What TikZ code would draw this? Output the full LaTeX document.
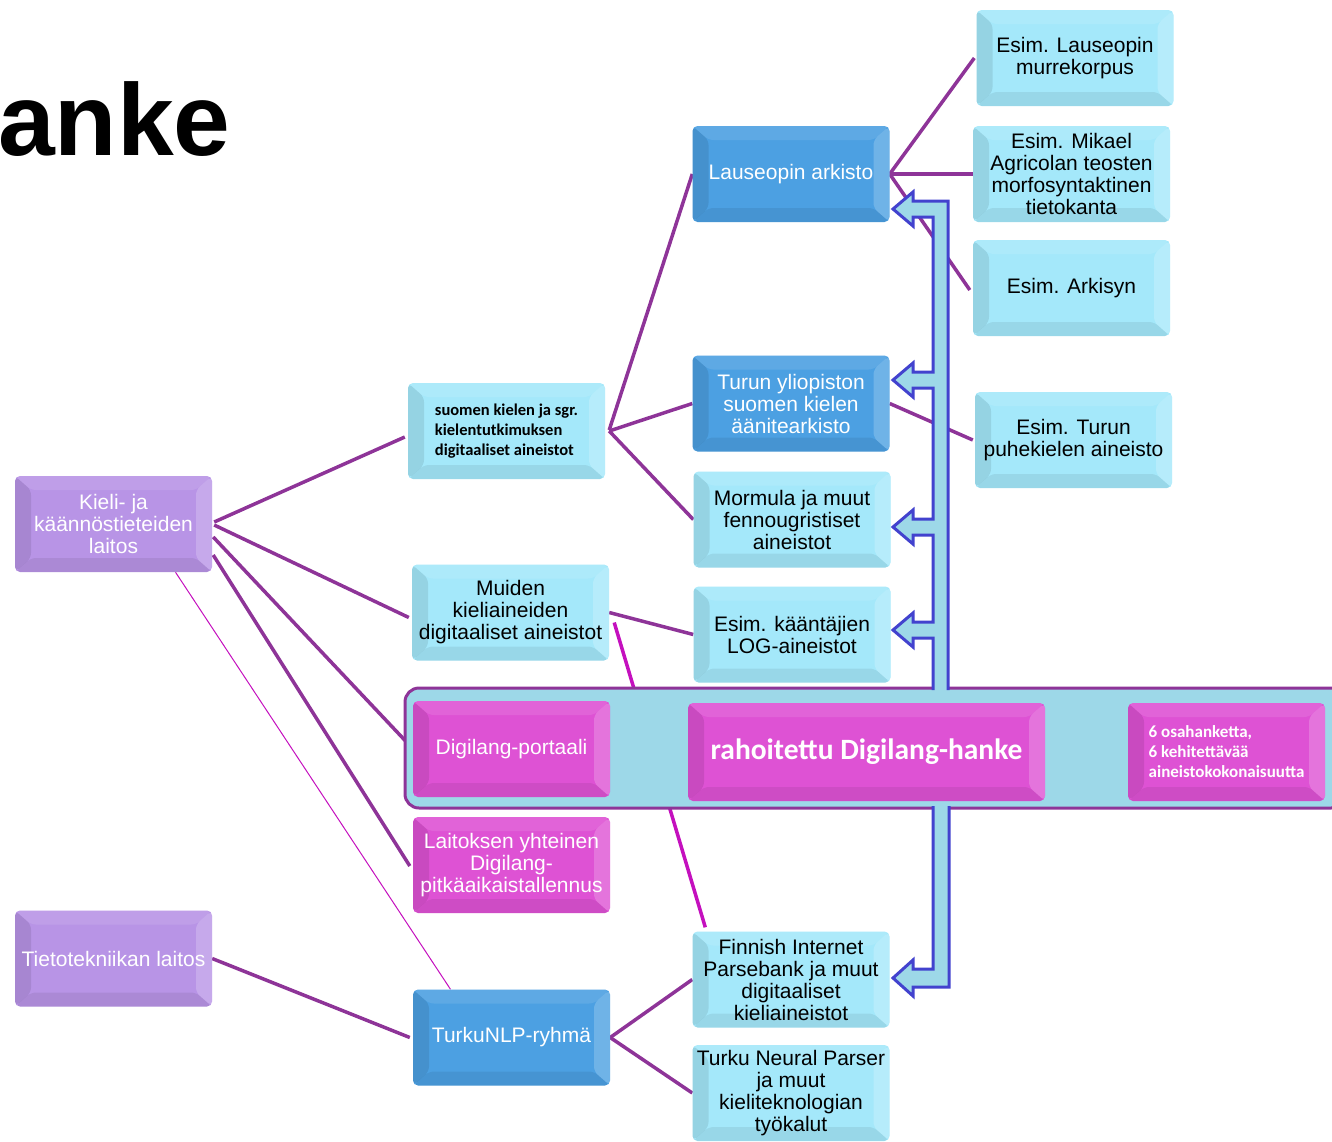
\documentclass[tikz,border=0pt]{standalone}
\usepackage{fontspec}
\setmainfont{Liberation Sans}
\newfontfamily\calib{Carlito}
\usetikzlibrary{calc}
\pgfdeclarelayer{bg}\pgfdeclarelayer{mid}
\pgfsetlayers{bg,mid,main}
\definecolor{cyanbox}{RGB}{164,232,250}
\definecolor{bluebox}{RGB}{76,160,226}
\definecolor{purplebox}{RGB}{184,148,230}
\definecolor{magbox}{RGB}{222,82,212}
\definecolor{bandfill}{RGB}{157,216,232}
\definecolor{linec}{RGB}{142,52,152}
\definecolor{magline}{RGB}{196,16,190}
\definecolor{arrowc}{RGB}{66,66,206}
\tikzset{
  bevel/.style={path picture={
    \fill[black,opacity=.09] (path picture bounding box.north west) -- (path picture bounding box.south west)
      -- ($(path picture bounding box.south west)+(16,-14)$) -- ($(path picture bounding box.north west)+(16,14)$) -- cycle;
    \fill[black,opacity=.07] (path picture bounding box.south west) -- (path picture bounding box.south east)
      -- ($(path picture bounding box.south east)+(-16,-14)$) -- ($(path picture bounding box.south west)+(16,-14)$) -- cycle;
    \fill[white,opacity=.20] (path picture bounding box.north east) -- (path picture bounding box.south east)
      -- ($(path picture bounding box.south east)+(-16,-14)$) -- ($(path picture bounding box.north east)+(-16,14)$) -- cycle;
    \fill[white,opacity=.10] (path picture bounding box.north west) -- (path picture bounding box.north east)
      -- ($(path picture bounding box.north east)+(-16,14)$) -- ($(path picture bounding box.north west)+(16,14)$) -- cycle;
  }},
  box/.style={rounded corners=5, minimum width=197, minimum height=96, inner sep=0pt,
    align=center, font=\fontsize{21}{22}\selectfont, bevel},
  cbox/.style={box, fill=cyanbox, text=black},
  bbox/.style={box, fill=bluebox, text=white},
  pbox/.style={box, fill=purplebox, text=white},
  mbox/.style={box, fill=magbox, text=white},
  conn/.style={draw=linec, line width=3.5},
  magconn/.style={draw=magline, line width=3.5},
  thinconn/.style={draw=magline, line width=1},
}
\begin{document}
\begin{tikzpicture}[x=1pt,y=-1pt]
\useasboundingbox (0,0) rectangle (1332,1141);

\node[anchor=base west, font=\fontsize{102}{110}\selectfont\bfseries, text=black, inner sep=0pt] (title) at (-2,155) {anke};

% nodes
\node[pbox] (kieli) at (113.5,524) {Kieli- ja\\käännöstieteiden\\laitos};
\node[pbox] (tieto) at (113.5,958.5) {Tietotekniikan laitos};
\node[cbox, font=\calib\bfseries\fontsize{16.5}{20}\selectfont, align=left] (suomen) at (506.5,431) {suomen kielen ja sgr.\\kielentutkimuksen\\digitaaliset aineistot};
\node[cbox] (muiden) at (510.5,612.5) {Muiden\\kieliaineiden\\digitaaliset aineistot};
\node[mbox] (laitoksen) at (511.5,865) {Laitoksen yhteinen\\Digilang-\\pitkäaikaistallennus};
\node[bbox] (turkunlp) at (511.5,1037.5) {TurkuNLP-ryhmä};
\node[bbox] (lauseopin) at (791,174) {Lauseopin arkisto};
\node[bbox] (turunyo) at (791,403.5) {Turun yliopiston\\suomen kielen\\äänitearkisto};
\node[cbox] (mormula) at (792,519.5) {Mormula ja muut\\fennougristiset\\aineistot};
\node[cbox] (log) at (792,634.5) {Esim. kääntäjien\\LOG-aineistot};
\node[cbox] (fip) at (791,979.5) {Finnish Internet\\Parsebank ja muut\\digitaaliset\\kieliaineistot};
\node[cbox] (tnp) at (791,1093) {Turku Neural Parser\\ja muut\\kieliteknologian\\työkalut};
\node[cbox] (esim1) at (1075,58) {Esim. Lauseopin\\murrekorpus};
\node[cbox] (agricola) at (1071.5,174) {Esim. Mikael\\Agricolan teosten\\morfosyntaktinen\\tietokanta};
\node[cbox] (arkisyn) at (1071.5,288) {Esim. Arkisyn};
\node[cbox] (turun) at (1073.5,440) {Esim. Turun\\puhekielen aineisto};

% band with its block arrows
\begin{pgfonlayer}{mid}
\node[draw=linec, line width=3, fill=bandfill, rounded corners=14, minimum width=940, minimum height=120, inner sep=0pt] (band) at (875,748) {};
\fill[bandfill] (948,693) -- (948,201) -- (913,201) -- (913,192) -- (893,209) -- (913,226) -- (913,217) -- (933,217)
  -- (933,372) -- (913,372) -- (913,363) -- (893,380) -- (913,397) -- (913,388) -- (933,388)
  -- (933,519) -- (913,519) -- (913,510) -- (893,527) -- (913,544) -- (913,535) -- (933,535)
  -- (933,622) -- (913,622) -- (913,613) -- (893,630) -- (913,647) -- (913,638) -- (933,638) -- (933,693) -- cycle;
\draw[draw=arrowc, line width=3, line join=miter] (948,690) -- (948,201) -- (913,201) -- (913,192) -- (893,209) -- (913,226) -- (913,217) -- (933,217)
  -- (933,372) -- (913,372) -- (913,363) -- (893,380) -- (913,397) -- (913,388) -- (933,388)
  -- (933,519) -- (913,519) -- (913,510) -- (893,527) -- (913,544) -- (913,535) -- (933,535)
  -- (933,622) -- (913,622) -- (913,613) -- (893,630) -- (913,647) -- (913,638) -- (933,638) -- (933,690);
\fill[bandfill] (933,803) -- (933,969) -- (913,969) -- (913,960) -- (893,978) -- (913,996) -- (913,987) -- (949,987) -- (949,803) -- cycle;
\draw[draw=arrowc, line width=3, line join=miter] (933,806) -- (933,969) -- (913,969) -- (913,960) -- (893,978) -- (913,996) -- (913,987) -- (949,987) -- (949,806);
\end{pgfonlayer}
\node[mbox] (portaali) at (511.5,749) {Digilang-portaali};
\node[mbox, minimum width=357, minimum height=98, font=\calib\bfseries\fontsize{29.5}{31}\selectfont] (hanke) at (866.5,752) {rahoitettu Digilang-hanke};
\node[mbox, minimum height=98, font=\calib\bfseries\fontsize{17}{20}\selectfont, align=left] (osa) at (1226.5,752) {6 osahanketta,\\6 kehitettävää\\aineistokokonaisuutta};

% connectors
\begin{pgfonlayer}{bg}
\draw[conn] ([shift={(2,-2)}]kieli.east) -- ([shift={(-3,6)}]suomen.west);
\draw[conn] ([shift={(2,1)}]kieli.east) -- ([shift={(-3,5)}]muiden.west);
\draw[conn] ([shift={(1,13)}]kieli.east) -- ([shift={(3,-6)}]band.west);
\draw[conn] ([shift={(1,31)}]kieli.east) -- ([shift={(-3,1)}]laitoksen.west);
\draw[thinconn] ([shift={(62,0)}]kieli.south) -- ([shift={(-61,0)}]turkunlp.north);
\draw[conn] (tieto.east) -- ([shift={(-3,0)}]turkunlp.west);
\draw[conn] ([shift={(4,-1)}]suomen.east) -- (lauseopin.west);
\draw[conn] ([shift={(4,0)}]suomen.east) -- (turunyo.west);
\draw[conn] ([shift={(4,0)}]suomen.east) -- (mormula.west);
\draw[conn] (muiden.east) -- (log.west);
\draw[magconn] ([shift={(5,10)}]muiden.east) -- ([shift={(13,-4)}]fip.north west);
\draw[conn] (lauseopin.east) -- ([shift={(-2,0)}]esim1.west);
\draw[conn] (lauseopin.east) -- (agricola.west);
\draw[conn] (lauseopin.east) -- ([shift={(-3,2)}]arkisyn.west);
\draw[conn] (turunyo.east) -- ([shift={(-2,0)}]turun.west);
\draw[conn] (turkunlp.east) -- (fip.west);
\draw[conn] (turkunlp.east) -- (tnp.west);
\end{pgfonlayer}
\end{tikzpicture}
\end{document}
